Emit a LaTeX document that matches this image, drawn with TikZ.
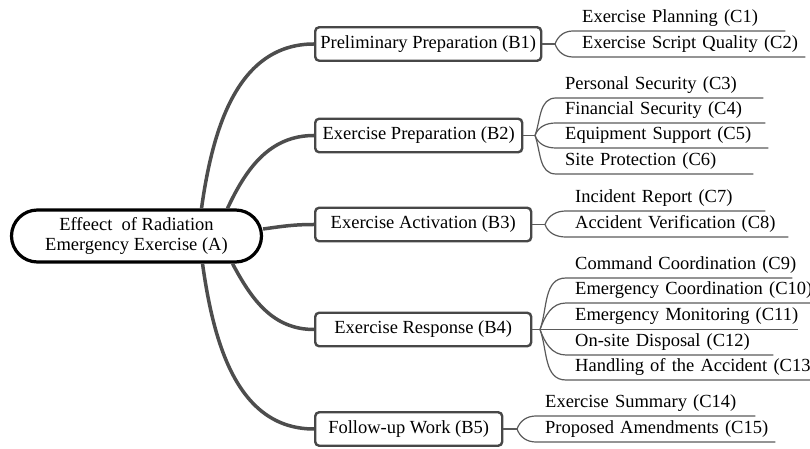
\documentclass[tikz,border=0pt]{standalone}
\usepackage{fontspec}
\setmainfont{Liberation Serif}
\definecolor{boxgray}{HTML}{474747}
\definecolor{limbgray}{HTML}{4d4d4d}
\definecolor{twiggray}{HTML}{5a5a5a}

\begin{document}
\begin{tikzpicture}
[x=1pt, y=1pt, font=\fontsize{18.5}{20}\selectfont,
 root/.style={draw=black, line width=3.2pt, rounded corners=26pt, minimum width=250pt, minimum height=52pt, align=center, inner sep=0pt},
 branch/.style={draw=boxgray, line width=2.4pt, rounded corners=4pt, minimum width=#1, minimum height=33.5pt, anchor=west},
 leaf/.style={anchor=south west, inner xsep=9pt, inner ysep=4pt, text height=13pt, text depth=4.5pt, text width=#1, align=left, execute at begin node=\hbox\bgroup, execute at end node=\egroup},
 limb/.style={draw=limbgray, line width=3.5pt},
 twig/.style={draw=twiggray, line width=1.2pt},
 rise/.style={out=70, in=180},
 fall/.style={out=-70, in=180}]

\useasboundingbox (0,0) rectangle (810,449);

\node (A) at (136.5, 213) [root] {Effeect\ \ of Radiation\\Emergency Exercise (A)};
\node (b1) at (314, 405) [branch=226pt] {Preliminary Preparation (B1)};
\node (b2) at (314, 313.5) [branch=207pt] {Exercise Preparation (B2)};
\node (b3) at (314, 224.5) [branch=216pt] {Exercise Activation (B3)};
\node (b4) at (314, 119.5) [branch=216pt] {Exercise Response (B4)};
\node (b5) at (314, 20) [branch=187pt] {Follow-up Work (B5)};

\coordinate (f1) at (555, 405);
\coordinate (f2) at (535, 313.5);
\coordinate (f3) at (545, 224.5);
\coordinate (f4) at (540, 119.5);
\coordinate (f5) at (517, 20);

\node (c1) at (573, 418) [leaf=194pt] {Exercise Planning (C1)};
\node (c2) at (573, 392) [leaf=214pt] {Exercise Script Quality (C2)};
\node (c3) at (556, 351) [leaf=189pt] {Personal Security (C3)};
\node (c4) at (556, 326) [leaf=191pt] {Financial Security (C4)};
\node (c5) at (556, 301) [leaf=194pt] {Equipment Support (C5)};
\node (c6) at (556, 275) [leaf=179pt] {Site Protection (C6)};
\node (c7) at (566, 238) [leaf=181pt] {Incident Report (C7)};
\node (c8) at (566, 212) [leaf=204pt] {Accident Verification (C8)};
\node (c9) at (566, 171) [leaf=208pt] {Command Coordination (C9)};
\node (c10) at (566, 146) [leaf=226pt] {Emergency Coordination (C10)};
\node (c11) at (566, 119.5) [leaf=214pt] {Emergency Monitoring (C11)};
\node (c12) at (566, 94) [leaf=189pt] {On-site Disposal (C12)};
\node (c13) at (566, 69) [leaf=226pt] {Handling of the Accident (C13)};
\node (c14) at (536, 33) [leaf=201pt] {Exercise Summary (C14)};
\node (c15) at (536, 7) [leaf=221pt] {Proposed Amendments (C15)};

\draw [limb] ([xshift=65pt]A.north) to[out=82, in=180] (b1.west);
\draw [limb] ([xshift=91pt]A.north) to[out=65, in=180] (b2.west);
\draw [limb] ([yshift=7pt]A.east) to[out=8, in=180] (b3.west);
\draw [limb] ([xshift=96pt]A.south) to[out=-62, in=180] (b4.west);
\draw [limb] ([xshift=66pt]A.south) to[out=-82, in=180] (b5.west);

\draw [twig] (b1.east) -- (f1);
\draw [twig] (f1) to[rise] (c1.south west) -- (c1.south east);
\draw [twig] (f1) to[fall] (c2.south west) -- (c2.south east);
\draw [twig] (b2.east) -- (f2);
\draw [twig] (f2) to[rise] (c3.south west) -- (c3.south east);
\draw [twig] (f2) to[rise] (c4.south west) -- (c4.south east);
\draw [twig] (f2) to[fall] (c5.south west) -- (c5.south east);
\draw [twig] (f2) to[fall] (c6.south west) -- (c6.south east);
\draw [twig] (b3.east) -- (f3);
\draw [twig] (f3) to[rise] (c7.south west) -- (c7.south east);
\draw [twig] (f3) to[fall] (c8.south west) -- (c8.south east);
\draw [twig] (b4.east) -- (f4);
\draw [twig] (f4) to[rise] (c9.south west) -- (c9.south east);
\draw [twig] (f4) to[rise] (c10.south west) -- (c10.south east);
\draw [twig] (f4) -- (c11.south west) -- (c11.south east);
\draw [twig] (f4) to[fall] (c12.south west) -- (c12.south east);
\draw [twig] (f4) to[fall] (c13.south west) -- (c13.south east);
\draw [twig] (b5.east) -- (f5);
\draw [twig] (f5) to[rise] (c14.south west) -- (c14.south east);
\draw [twig] (f5) to[fall] (c15.south west) -- (c15.south east);
\end{tikzpicture}
\end{document}
